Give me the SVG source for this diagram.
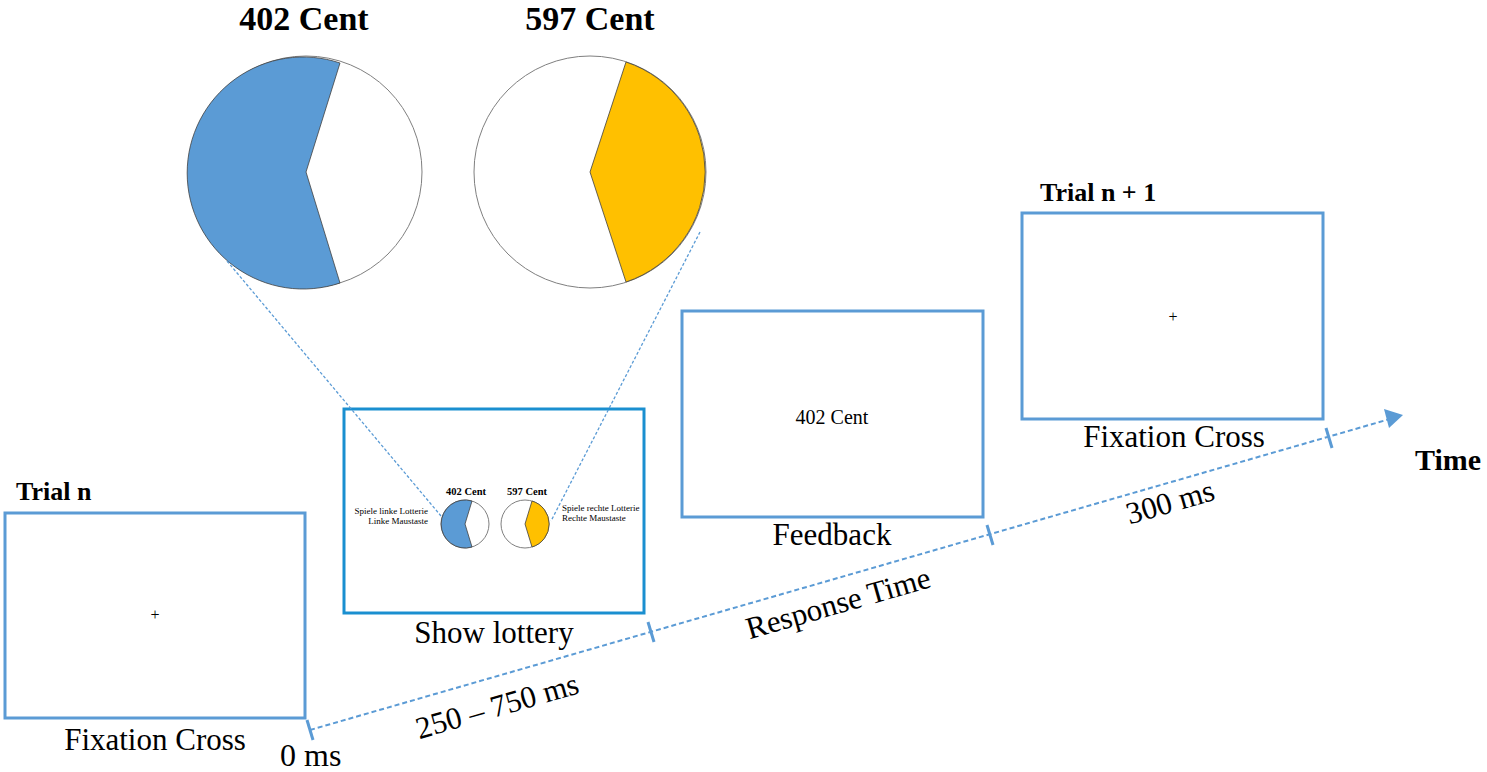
<svg xmlns="http://www.w3.org/2000/svg" width="1487" height="772" viewBox="0 0 1487 772">
<defs>
<style>
.box{fill:#fff;stroke:#5b9bd5;stroke-width:3}
.box2{fill:#fff;stroke:#1a8fd0;stroke-width:3}
.t{font-family:"Liberation Serif","Times New Roman",serif;fill:#000}
.lbl{font-size:31px;text-anchor:middle}
.bold{font-weight:bold}
.axis{stroke:#5b9bd5;stroke-width:2;stroke-dasharray:5 3;fill:none}
.tick{stroke:#5b9bd5;stroke-width:3}
.zoom{stroke:#5b9bd5;stroke-width:1.3;stroke-dasharray:3 2;fill:none}
.pie{fill:#fff;stroke:#7f7f7f;stroke-width:1}
.blue{fill:#5b9bd5;stroke:#404040;stroke-width:0.8}
.yellow{fill:#ffc000;stroke:#404040;stroke-width:0.8}
</style>
</defs>
<rect width="1487" height="772" fill="#fff"/>

<g id="trial-n">
<rect class="box" x="5" y="513" width="300" height="205"/>
<text class="t" x="155" y="620" font-size="16" text-anchor="middle">+</text>
<text class="t bold" x="16" y="500" font-size="26">Trial n</text>
<text class="t lbl" x="155" y="750">Fixation Cross</text>
</g>

<g id="show-lottery">
<rect class="box2" x="344" y="409" width="300" height="204"/>
<text class="t lbl" x="494" y="643">Show lottery</text>
<text class="t bold" x="466" y="495" font-size="10.5" text-anchor="middle">402 Cent</text>
<text class="t bold" x="527" y="495" font-size="10.5" text-anchor="middle">597 Cent</text>
<circle class="pie" cx="465" cy="524" r="24"/>
<path class="blue" d="M472,501 L465,524 L472,547 A24,24 0 1 1 472,501 Z"/>
<circle class="pie" cx="525" cy="524" r="24"/>
<path class="yellow" d="M532,501 L525,524 L532,547 A24,24 0 0 0 532,501 Z"/>
<text class="t" x="428" y="514" font-size="9" text-anchor="end">Spiele linke Lotterie</text>
<text class="t" x="428" y="524" font-size="9" text-anchor="end">Linke Maustaste</text>
<text class="t" x="562" y="511" font-size="9">Spiele rechte Lotterie</text>
<text class="t" x="562" y="521" font-size="9">Rechte Maustaste</text>
</g>

<g id="big-lottery-left">
<text class="t bold" x="304" y="30" font-size="34" text-anchor="middle">402 Cent</text>
<circle class="pie" cx="306" cy="172" r="116"/>
<path class="blue" d="M340,63 L306,172 L340,283 A116,116 0 1 1 340,63 Z"/>
</g>

<g id="big-lottery-right">
<text class="t bold" x="590" y="30" font-size="34" text-anchor="middle">597 Cent</text>
<circle class="pie" cx="590" cy="172" r="116"/>
<path class="yellow" d="M626,62 L590,172 L626,282 A116,116 0 0 0 626,62 Z"/>
</g>

<g id="feedback">
<rect class="box" x="682" y="311" width="301" height="206"/>
<text class="t" x="832" y="424" font-size="20" text-anchor="middle">402 Cent</text>
<text class="t lbl" x="832" y="545">Feedback</text>
</g>

<g id="trial-n1">
<rect class="box" x="1022" y="213" width="301" height="206"/>
<text class="t" x="1173" y="322" font-size="16" text-anchor="middle">+</text>
<text class="t bold" x="1040" y="201" font-size="26">Trial n + 1</text>
<text class="t lbl" x="1174" y="447">Fixation Cross</text>
</g>

<g id="connectors">
<line class="zoom" x1="227" y1="261" x2="441" y2="516"/>
<line class="zoom" x1="700" y1="232" x2="551" y2="521"/>
<line class="axis" x1="310" y1="730" x2="1390" y2="419"/>
<polygon points="1403,415 1384,409 1389,428" fill="#5b9bd5"/>
<line class="tick" x1="307" y1="720" x2="313" y2="740"/>
<line class="tick" x1="648" y1="622" x2="654" y2="642"/>
<line class="tick" x1="987" y1="525" x2="993" y2="545"/>
<line class="tick" x1="1326" y1="428" x2="1332" y2="448"/>
</g>

<g id="time-labels">
<text class="t" x="280" y="766" font-size="32">0 ms</text>
<text class="t lbl" transform="translate(500,716) rotate(-16)">250 – 750 ms</text>
<text class="t lbl" transform="translate(841,613) rotate(-16)">Response Time</text>
<text class="t lbl" transform="translate(1173,512) rotate(-16)">300 ms</text>
<text class="t bold" x="1415" y="470" font-size="30">Time</text>
</g>
</svg>
